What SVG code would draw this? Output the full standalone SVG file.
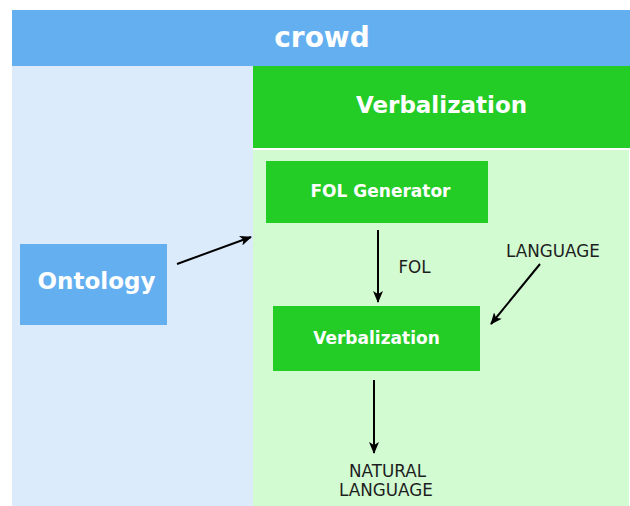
<svg xmlns="http://www.w3.org/2000/svg" width="630" height="506" viewBox="0 0 630 506">
<defs>
<style>
.blue{fill:#64aff0}
.green{fill:#24cc26}
.bt{font-family:"DejaVu Sans",sans-serif;font-weight:bold;fill:#ffffff;text-anchor:middle}
.lbl{font-family:"DejaVu Sans",sans-serif;font-size:16.8px;fill:#1e1e1e;text-anchor:middle}
.conn{stroke:#000;stroke-width:2;fill:none;marker-end:url(#ah)}
</style>
<marker id="ah" viewBox="0 0 12 10" refX="11" refY="5" markerWidth="12" markerHeight="10" markerUnits="userSpaceOnUse" orient="auto">
<path d="M0,0 L12,5 L0,10 L3,5 Z" fill="#000"/>
</marker>
</defs>
<rect width="630" height="506" fill="#ffffff"/>
<g id="crowd">
<rect x="12" y="65" width="241" height="441" fill="#dcebfc"/>
<rect class="blue" x="12" y="10" width="618" height="56"/>
<text class="bt" x="322" y="47" font-size="28">crowd</text>
</g>
<g id="verbalization-area">
<rect x="253" y="150" width="376" height="356" fill="#d2fbd2"/>
<rect class="green" x="253" y="66" width="377" height="82"/>
<text class="bt" x="441.5" y="113" font-size="23">Verbalization</text>
</g>
<g id="ontology">
<rect class="blue" x="20" y="244" width="147" height="81"/>
<text class="bt" x="96.5" y="289" font-size="23">Ontology</text>
</g>
<g id="fol-generator">
<rect class="green" x="266" y="161" width="222" height="62"/>
<text class="bt" x="380.5" y="197" font-size="17">FOL Generator</text>
</g>
<g id="verbalization">
<rect class="green" x="273" y="306" width="207" height="65"/>
<text class="bt" x="376.5" y="344" font-size="17">Verbalization</text>
</g>
<g id="labels">
<text class="lbl" x="414.5" y="273">FOL</text>
<text class="lbl" x="553" y="257">LANGUAGE</text>
<text class="lbl" x="387.5" y="477">NATURAL</text>
<text class="lbl" x="386" y="496">LANGUAGE</text>
</g>
<g id="connectors">
<line class="conn" x1="177" y1="264" x2="251" y2="237"/>
<line class="conn" x1="378" y1="230" x2="378" y2="302"/>
<line class="conn" x1="540" y1="264" x2="491" y2="324"/>
<line class="conn" x1="374" y1="380" x2="374" y2="453"/>
</g>
</svg>
